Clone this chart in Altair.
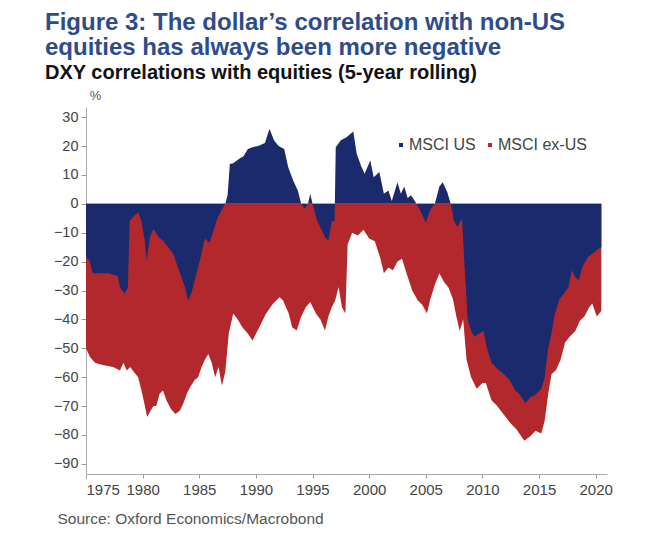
import altair as alt
import pandas as pd

# MSCI US: DXY 5-year rolling correlation (%)
us_years = [1975.0, 1975.3, 1975.6, 1976.2, 1977.0, 1977.8, 1978.0, 1978.4, 1978.7, 1978.85,
            1979.3, 1979.6, 1979.9, 1980.2, 1980.35, 1980.65, 1980.95, 1981.4, 1981.8, 1982.25,
            1982.7, 1983.3, 1983.75, 1984.0, 1984.3, 1984.6, 1985.05, 1985.5, 1985.9, 1986.2,
            1986.6, 1987.0, 1987.3, 1987.5, 1987.7, 1988.0, 1988.5, 1988.9, 1989.3, 1989.7,
            1990.2, 1990.8, 1991.2, 1991.6, 1992.0, 1992.5, 1992.85, 1993.3, 1993.7, 1994.0,
            1994.3, 1994.6, 1994.8, 1995.0, 1995.4, 1996.1, 1996.4, 1996.7, 1996.95, 1997.05,
            1997.5, 1998.0, 1998.6, 1998.9, 1999.3, 1999.6, 2000.1, 2000.4, 2000.9, 2001.3,
            2001.7, 2002.0, 2002.5, 2002.8, 2003.1, 2003.4, 2003.7, 2004.1, 2004.5, 2005.0,
            2005.4, 2005.8, 2006.2, 2006.5, 2006.9, 2007.2, 2007.5, 2007.8, 2008.2, 2008.4,
            2008.7, 2009.0, 2009.3, 2009.7, 2010.1, 2010.4, 2010.8, 2011.3, 2011.9, 2012.4,
            2012.9, 2013.3, 2013.8, 2014.2, 2014.7, 2015.2, 2015.5, 2015.8, 2016.1, 2016.4,
            2016.8, 2017.2, 2017.6, 2017.9, 2018.2, 2018.5, 2018.8, 2019.3, 2019.7, 2020.1,
            2020.5]
us_values = [-18.5, -19.5, -24, -24, -24, -25, -29, -31, -29, -6,
             -4, -3, -6, -13, -19.5, -11.5, -8.7, -11.5, -12.7, -15,
             -17.3, -24, -29, -33.5, -31, -26.5, -19.6, -12, -13.5, -10,
             -5, -2, 0, 3, 13.8, 14, 15.5, 16.5, 19, 19.6,
             20, 21, 26, 22, 20, 19, 12.7, 8, 4.6, 0,
             -1.7, 0, 3.5, 0, -5.8, -11.5, -12.7, -6, -6, 19.6,
             22, 23, 25, 17.3, 13, 10.4, 15, 9.2, 11, 3.5,
             4.6, 1, 7.5, 3.5, 6, 2, 3, 0.5, -2.3, -6.5,
             -2, 0, 6, 7.5, 4, 0, -6, -8, -5, -20,
             -40, -44, -46, -45, -44, -50, -55, -57, -59, -61,
             -64.6, -66, -69, -67, -66, -64, -60, -50, -45, -38,
             -33, -31, -28.8, -23, -25.4, -26.5, -22, -18.5, -17.3, -16,
             -15]

# MSCI ex-US: DXY 5-year rolling correlation (%)
exus_years = [1975.0, 1975.35, 1975.8, 1976.2, 1976.8, 1977.4, 1978.0, 1978.3, 1978.6, 1978.9,
              1979.2, 1979.6, 1979.9, 1980.2, 1980.4, 1980.65, 1980.95, 1981.2, 1981.5, 1981.8,
              1982.1, 1982.5, 1982.9, 1983.3, 1983.6, 1983.9, 1984.2, 1984.6, 1984.9, 1985.2,
              1985.5, 1985.8, 1986.1, 1986.4, 1986.7, 1987.0, 1987.3, 1987.6, 1988.0, 1988.4,
              1988.8, 1989.3, 1989.7, 1990.3, 1990.9, 1991.5, 1992.1, 1992.4, 1992.9, 1993.2,
              1993.6, 1994.0, 1994.4, 1994.8, 1995.3, 1995.7, 1996.1, 1996.4, 1996.7, 1997.0,
              1997.3, 1997.6, 1997.9, 1998.1, 1998.5, 1999.0, 1999.5, 2000.0, 2000.5, 2001.0,
              2001.3, 2001.7, 2002.1, 2002.5, 2002.9, 2003.3, 2003.8, 2004.3, 2004.7, 2005.1,
              2005.4, 2005.8, 2006.2, 2006.6, 2007.0, 2007.4, 2007.7, 2008.0, 2008.3, 2008.6,
              2009.0, 2009.5, 2010.0, 2010.3, 2010.8, 2011.3, 2011.9, 2012.5, 2013.0, 2013.7,
              2014.2, 2014.7, 2015.2, 2015.5, 2015.8, 2016.1, 2016.5, 2016.9, 2017.3, 2017.7,
              2018.2, 2018.6, 2019.0, 2019.4, 2019.7, 2020.1, 2020.5]
exus_values = [-50, -53, -55, -55.5, -56, -56.5, -57.7, -55, -57.7, -56.5,
               -58, -60, -64.6, -70, -73.8, -72, -70, -70, -65.7, -64.6,
               -68, -71, -72.7, -71.5, -69, -65.7, -63.4, -61, -60, -56.5,
               -54, -52, -55, -60, -56.5, -63, -58, -45, -38, -40,
               -42.7, -45, -47.3, -42.7, -38, -34.6, -32.3, -33.5, -38, -42.7,
               -43.8, -39, -35.8, -34, -38, -40, -43.8, -39, -35.8, -33.5,
               -28.8, -35.8, -38, -14, -10, -11, -9, -12, -13, -19,
               -24, -22, -23, -20, -19, -24, -30, -33.5, -35, -38,
               -33, -28, -24, -27, -29, -33, -39, -44, -40, -54,
               -60, -64, -62, -62, -68, -70, -73, -76, -78, -82,
               -80.5, -78.5, -79.5, -75, -66, -59, -57.5, -54, -48, -46,
               -44, -40.5, -39, -36, -34.5, -39, -37]

series_names = ["MSCI US", "MSCI ex-US"]
series_colors = ["#1b2a6c", "#b3282d"]

us_df = pd.DataFrame({"year": us_years, "value": us_values, "series": series_names[0]})
ex_df = pd.DataFrame({"year": exus_years, "value": exus_values, "series": series_names[1]})

FONT = "Liberation Sans"

color_scale = alt.Scale(domain=series_names, range=series_colors)

x_enc = alt.X(
    "year:Q",
    scale=alt.Scale(domain=[1975, 2021], nice=False, zero=False),
    axis=alt.Axis(
        values=list(range(1975, 2021, 5)), format="d", grid=False,
        title="Source: Oxford Economics/Macrobond", titleFont=FONT, titleFontSize=15.5,
        titleFontWeight="normal", titleColor="#555555", titleAnchor="start",
        titleAlign="left", titleX=-29, titleY=37, labelFont=FONT, labelFontSize=15,
        labelColor="#444444", domainColor="#aaaaaa", tickColor="#999999", tickSize=4,
        labelPadding=4,
    ),
)
y_enc = alt.Y(
    "value:Q",
    scale=alt.Scale(domain=[-93.5, 33.5], nice=False),
    axis=alt.Axis(
        values=list(range(-90, 31, 10)), grid=False, title="%", titleAngle=0,
        titleFont=FONT, titleFontSize=13, titleFontWeight="normal", titleColor="#555555",
        titleX=9, titleY=-12, titleAlign="center", titleBaseline="middle",
        labelFont=FONT, labelFontSize=14.5, labelColor="#444444",
        domainColor="#aaaaaa", tickColor="#999999", tickSize=5, labelPadding=3,
    ),
)

color_enc = alt.Color(
    "series:N",
    scale=color_scale,
    legend=alt.Legend(
        title=None, orient="none", legendX=307, legendY=30, direction="horizontal",
        symbolType="square", symbolSize=16, symbolStrokeWidth=0, labelFont=FONT,
        labelFontSize=16, labelColor="#444444", columnPadding=6, labelOffset=0,
        symbolOffset=0,
    ),
)

ex_area = alt.Chart(ex_df).mark_area(interpolate="linear", opacity=1).encode(
    x=x_enc, y=y_enc, y2=alt.datum(0), color=color_enc
)
us_area = alt.Chart(us_df).mark_area(interpolate="linear", opacity=1).encode(
    x=x_enc, y=y_enc, y2=alt.datum(0), color=color_enc
)

chart = alt.layer(ex_area, us_area).properties(
    width=521,
    height=367,
    autosize=alt.AutoSizeParams(type="none"),
    padding={"left": 78, "top": 99, "right": 35, "bottom": 60},
    title=alt.Title(
        text=["Figure 3: The dollar\u2019s correlation with non-US",
              "equities has always been more negative"],
        subtitle="\u00a0DXY correlations with equities (5-year rolling)",
        anchor="start", frame="group", dx=-41, offset=6,
        font=FONT, fontSize=24, fontWeight="bold", color="#2e4c8c", lineHeight=25,
        subtitleFont=FONT, subtitleFontSize=20, subtitleFontWeight="bold",
        subtitleColor="#111111", subtitlePadding=3,
    ),
).configure_view(stroke=None)

chart.save("out.html", embed_options={"renderer": "svg", "actions": False})
